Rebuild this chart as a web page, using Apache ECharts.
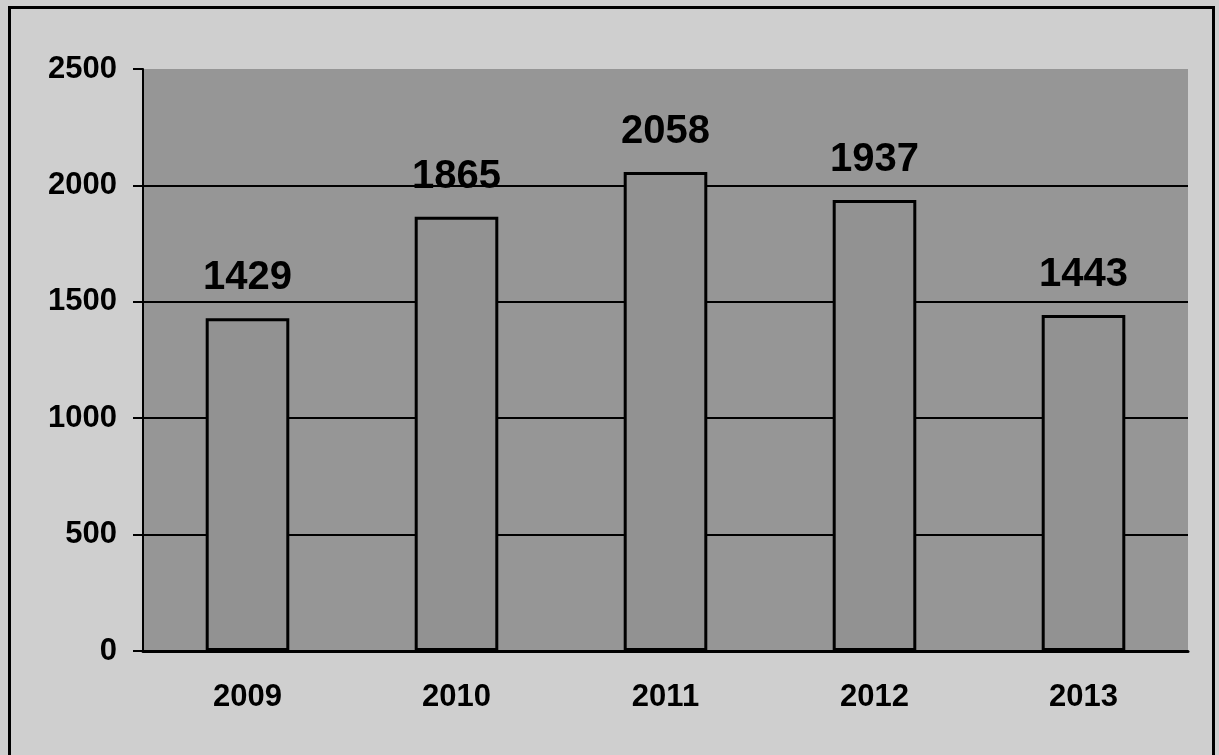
<!DOCTYPE html>
<html>
<head>
<meta charset="utf-8">
<script src="https://cdn.jsdelivr.net/npm/echarts@6/dist/echarts.min.js"></script>
<style>
  html, body { margin: 0; padding: 0; background: #cfcfcf; overflow: hidden; }
  #chart { position: absolute; left: 0; top: 0; width: 1219px; height: 755px; }
  .frame {
    position: absolute; left: 8px; top: 6px; width: 1201px; height: 800px;
    border: 3px solid #000; pointer-events: none;
  }
</style>
</head>
<body>
<div id="chart"></div>
<div class="frame"></div>
<script>
const years = ['2009', '2010', '2011', '2012', '2013']
const counts = [1429, 1865, 2058, 1937, 1443]
const yTicks = [0, 500, 1000, 1500, 2000, 2500]

const chart = echarts.init(document.getElementById('chart'))

const option = {
  backgroundColor: 'transparent',
  animation: false,
  grid: {
    left: 143,
    top: 69,
    right: 31,
    bottom: 104,
    show: true,
    backgroundColor: '#969696',
    borderWidth: 0,
  },
  xAxis: {
    type: 'category',
    data: years,
    axisLine: { lineStyle: { color: '#000', width: 3 } },
    axisTick: { inside: true, length: 7, lineStyle: { color: '#000', width: 2 } },
    axisLabel: {
      color: '#000',
      fontFamily: 'Liberation Sans, Arial, sans-serif',
      fontWeight: 'bold',
      fontSize: 31,
      margin: 31,
    },
  },
  yAxis: {
    type: 'value',
    min: yTicks[0],
    max: yTicks[yTicks.length - 1],
    interval: 500,
    axisLine: { show: true, lineStyle: { color: '#000', width: 2 } },
    axisTick: { show: true, length: 10, lineStyle: { color: '#000', width: 2 } },
    axisLabel: {
      color: '#000',
      fontFamily: 'Liberation Sans, Arial, sans-serif',
      fontWeight: 'bold',
      fontSize: 31,
      margin: 26,
      formatter: (v) => String(v),
    },
    splitLine: {
      show: true,
      // no line at the top edge (2500)
      lineStyle: { color: ['#000', '#000', '#000', '#000', '#000', 'rgba(0,0,0,0)'], width: 2 },
    },
  },
  series: [
    {
      type: 'bar',
      data: counts,
      barCategoryGap: '60%',
      itemStyle: {
        color: '#929292',
        borderColor: '#000',
        borderWidth: 3,
      },
      label: {
        show: true,
        position: 'top',
        distance: 20,
        color: '#000',
        fontFamily: 'Liberation Sans, Arial, sans-serif',
        fontWeight: 'bold',
        fontSize: 40,
      },
    },
  ],
}

chart.setOption(option)
</script>
</body>
</html>
